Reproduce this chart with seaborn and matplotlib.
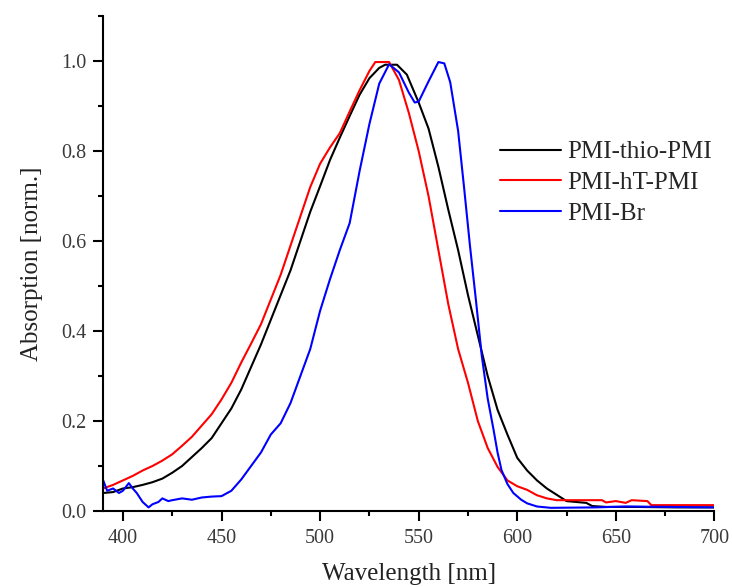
import numpy as np
import pandas as pd
import matplotlib
matplotlib.use("Agg")
import matplotlib.pyplot as plt
import seaborn as sns
from matplotlib.ticker import MultipleLocator

# ---------------- data ----------------
thio_wl = [390, 395, 400, 405, 410, 415, 420, 425, 430, 435, 440, 445, 450, 455, 460,
           465, 470, 475, 480, 485, 490, 495, 500, 505, 510, 515, 520, 525, 530, 533,
           539, 544, 550, 555, 560, 565, 570, 575, 580, 585, 590, 595, 600, 605, 610,
           615, 620, 625, 635, 638, 645, 660, 680, 700]
thio_abs = [0.040, 0.042, 0.050, 0.053, 0.058, 0.064, 0.072, 0.085, 0.100, 0.120, 0.140,
            0.162, 0.195, 0.228, 0.270, 0.320, 0.370, 0.425, 0.480, 0.535, 0.600, 0.665,
            0.722, 0.780, 0.830, 0.878, 0.925, 0.962, 0.985, 0.992, 0.992, 0.970, 0.908,
            0.850, 0.765, 0.670, 0.580, 0.480, 0.390, 0.300, 0.225, 0.170, 0.118, 0.090,
            0.068, 0.050, 0.036, 0.022, 0.018, 0.011, 0.009, 0.009, 0.008, 0.008]

ht_wl = [390, 395, 400, 405, 410, 415, 420, 425, 430, 435, 440, 445, 450, 455, 460, 465,
         470, 475, 480, 485, 490, 495, 500, 505, 510, 515, 520, 525, 528, 535, 540, 545,
         550, 555, 560, 565, 570, 575, 580, 585, 590, 595, 600, 605, 610, 615, 620, 643,
         645, 650, 655, 658, 666, 668, 700]
ht_abs = [0.050, 0.058, 0.068, 0.078, 0.090, 0.100, 0.112, 0.126, 0.145, 0.165, 0.190,
          0.215, 0.248, 0.285, 0.330, 0.372, 0.415, 0.470, 0.525, 0.590, 0.655, 0.720,
          0.772, 0.808, 0.840, 0.888, 0.935, 0.978, 0.998, 0.998, 0.958, 0.885, 0.800,
          0.700, 0.580, 0.460, 0.360, 0.285, 0.200, 0.140, 0.098, 0.068, 0.055, 0.047,
          0.035, 0.028, 0.024, 0.024, 0.019, 0.022, 0.018, 0.024, 0.022, 0.013, 0.013]

br_wl = [390, 392, 395, 398, 400, 403, 405, 407, 410, 413, 415, 418, 420, 423, 425, 430,
         435, 440, 445, 450, 455, 460, 465, 470, 475, 480, 485, 490, 495, 500, 505, 510,
         515, 520, 525, 530, 535, 540, 545, 548, 550, 555, 560, 563, 566, 570, 573, 576,
         579, 582, 585, 588, 590, 592, 595, 598, 602, 605, 610, 617, 640, 655, 700]
br_abs = [0.068, 0.045, 0.050, 0.040, 0.045, 0.062, 0.050, 0.040, 0.020, 0.008, 0.015,
          0.020, 0.028, 0.022, 0.024, 0.028, 0.025, 0.030, 0.032, 0.033, 0.045, 0.070,
          0.100, 0.130, 0.170, 0.195, 0.240, 0.300, 0.360, 0.445, 0.515, 0.580, 0.640,
          0.755, 0.860, 0.950, 0.993, 0.975, 0.930, 0.908, 0.910, 0.955, 0.998, 0.995,
          0.953, 0.845, 0.720, 0.590, 0.470, 0.345, 0.250, 0.180, 0.130, 0.091, 0.060,
          0.040, 0.025, 0.017, 0.010, 0.007, 0.008, 0.010, 0.008]

series_names = ["PMI-thio-PMI", "PMI-hT-PMI", "PMI-Br"]
series_colors = ["#000000", "#ff0000", "#0000ff"]

x_ticks = [400, 450, 500, 550, 600, 650, 700]
y_ticks = [0.0, 0.2, 0.4, 0.6, 0.8, 1.0]

# ---------------- figure ----------------
sns.set_theme(style="ticks")
plt.rcParams["font.family"] = ["Liberation Serif", "DejaVu Serif"]

fig = plt.figure(figsize=(7.32, 5.87), dpi=100)
ax = fig.add_axes([0.141, 0.1295, 0.835, 0.843])

frames = []
for name, wl, ab in zip(series_names,
                        [thio_wl, ht_wl, br_wl],
                        [thio_abs, ht_abs, br_abs]):
    frames.append(pd.DataFrame({"Wavelength": wl, "Absorption": ab, "Sample": name}))
df = pd.concat(frames, ignore_index=True)

sns.lineplot(data=df, x="Wavelength", y="Absorption", hue="Sample",
             hue_order=series_names, palette=series_colors,
             estimator=None, sort=False, linewidth=1.5, ax=ax)

ax.set_xlim(390, 700)
ax.set_ylim(0, 1.1)
ax.set_xticks(x_ticks)
ax.set_yticks(y_ticks)
ax.set_yticklabels([f"{v:.1f}" for v in y_ticks])
ax.xaxis.set_minor_locator(MultipleLocator(25))
ax.yaxis.set_minor_locator(MultipleLocator(0.1))

for s in ["top", "right"]:
    ax.spines[s].set_visible(False)
for s in ["left", "bottom"]:
    ax.spines[s].set_linewidth(1.5)
    ax.spines[s].set_color("black")

ax.tick_params(axis="both", which="major", direction="out", length=7, width=1.5,
               labelsize=14.5, labelcolor="#3a3a3a", color="black", pad=5)
ax.tick_params(axis="both", which="minor", direction="out", length=3.5, width=1.5,
               color="black")
ax.tick_params(axis="x", which="major", pad=6)

ax.set_xlabel("Wavelength [nm]", fontsize=18, color="#222222", labelpad=11)
ax.set_ylabel("Absorption [norm.]", fontsize=18, color="#222222", labelpad=13)

leg = ax.legend(loc="upper left", bbox_to_anchor=(0.683, 0.760),
                bbox_transform=fig.transFigure, frameon=False, fontsize=18,
                handlelength=2.45, handletextpad=0.25, labelspacing=0.33,
                borderpad=0, borderaxespad=0)
for line in leg.get_lines():
    line.set_linewidth(1.5)

fig.savefig("out.png", dpi=100)
